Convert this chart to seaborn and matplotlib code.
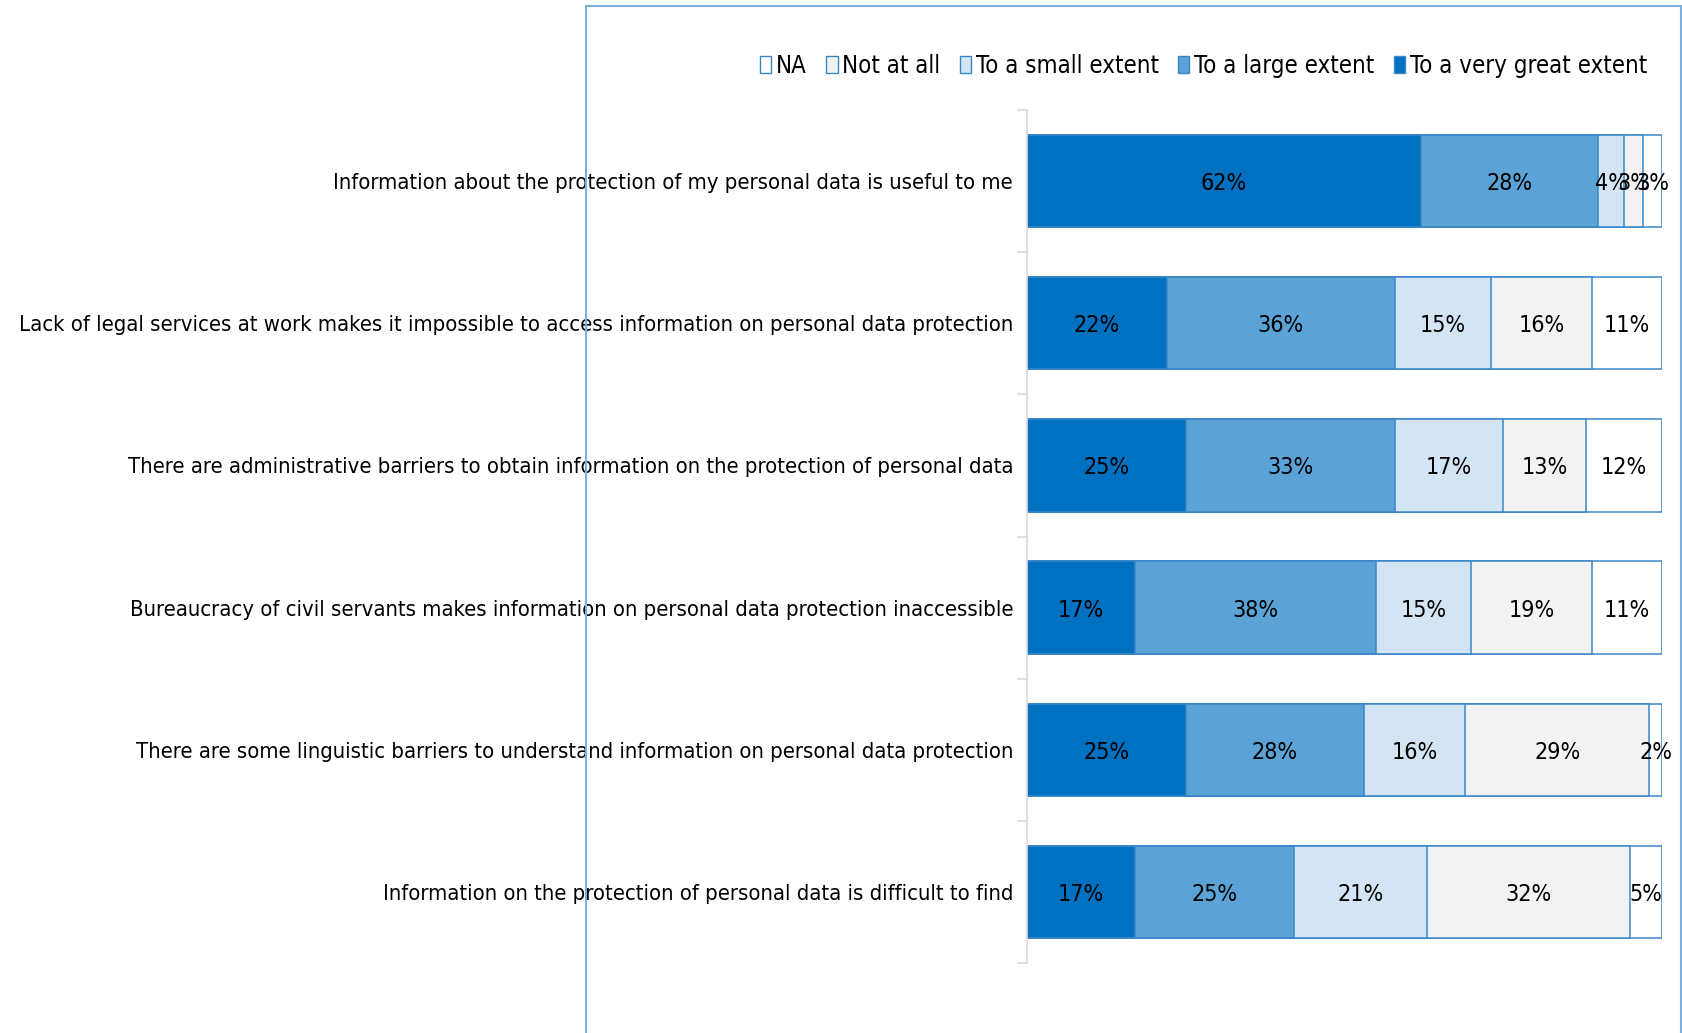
import numpy as np
import pandas as pd
import matplotlib
matplotlib.use("Agg")
import matplotlib.pyplot as plt
from matplotlib import font_manager as fm
from matplotlib.patches import Patch, Rectangle
import seaborn as sns

categories = [
    "Information about the protection of my personal data is useful to me",
    "Lack of legal services at work makes it impossible to access information on personal data protection",
    "There are administrative barriers to obtain information on the protection of personal data",
    "Bureaucracy of civil servants makes information on personal data protection inaccessible",
    "There are some linguistic barriers to understand information on personal data protection",
    "Information on the protection of personal data is difficult to find",
]
series_names = ["To a very great extent", "To a large extent", "To a small extent", "Not at all", "NA"]
very_great = [62, 22, 25, 17, 25, 17]
large = [28, 36, 33, 38, 28, 25]
small = [4, 15, 17, 15, 16, 21]
not_at_all = [3, 16, 13, 19, 29, 32]
na = [3, 11, 12, 11, 2, 5]

colors = ["#0070C0", "#5BA3D6", "#D3E5F4", "#F2F2F2", "#FFFFFF"]
edge = "#3A87C8"

sns.set_theme(style="white")
plt.rcParams["font.family"] = ["DejaVu Sans"]
plt.rcParams["text.color"] = "black"

# look for a condensed/narrow font
font_file = None
scale = 1.0
for f in fm.fontManager.ttflist:
    low = f.fname.lower()
    if "dejavusanscondensed.ttf" in low.replace("-", "") and "bold" not in low and "oblique" not in low:
        font_file = f.fname
        scale = 15.5 / 17.5
        break
if font_file is None:
    for f in fm.fontManager.ttflist:
        low = f.fname.lower()
        if "liberationsansnarrow-regular" in low.replace(" ", ""):
            font_file = f.fname
            break
if font_file is None:
    scale = 13.6 / 17.5


def fprop(size):
    if font_file is not None:
        return fm.FontProperties(fname=font_file, size=size * scale)
    return fm.FontProperties(family="DejaVu Sans", size=size * scale)


fp_tick = fprop(17.9)
fp_bar = fprop(18.8)
fp_leg = fprop(19.4)

fig = plt.figure(figsize=(16.83, 10.33), dpi=100)
ax = fig.add_axes([1027 / 1683, 1 - 963 / 1033, (1662 - 1027) / 1683, (963 - 110) / 1033])

vals = np.array([very_great, large, small, not_at_all, na], dtype=float)
cum = np.cumsum(vals, axis=0)

for i in range(len(series_names) - 1, -1, -1):
    df = pd.DataFrame({"cat": categories, "val": cum[i]})
    sns.barplot(data=df, y="cat", x="val", order=categories, color=colors[i],
                saturation=1, width=0.65, edgecolor=edge, linewidth=1.1, ax=ax, orient="h")

for i in range(len(series_names)):
    for j in range(len(categories)):
        center = cum[i][j] - vals[i][j] / 2
        ax.text(center, j, f"{int(vals[i][j])}%", ha="center", va="center_baseline",
                fontproperties=fp_bar, color="black")

ax.set_xlim(0, 100)
ax.set_ylim(len(categories) - 0.5, -0.5)
ax.set_xlabel("")
ax.set_ylabel("")
ax.set_xticks([])
ax.set_yticks(range(len(categories)))
ax.set_yticklabels(categories, fontproperties=fp_tick, color="black")
ax.set_yticks(np.arange(-0.5, len(categories)), minor=True)
ax.tick_params(axis="y", which="major", length=0, pad=10)
ax.tick_params(axis="y", which="minor", length=7, color="#D9D9D9", width=1.2, left=True)
for s in ["top", "right", "bottom"]:
    ax.spines[s].set_visible(False)
ax.spines["left"].set_color("#D9D9D9")
ax.spines["left"].set_linewidth(1.2)

legend_order = ["NA", "Not at all", "To a small extent", "To a large extent", "To a very great extent"]
legend_colors = ["#FFFFFF", "#F2F2F2", "#D3E5F4", "#5BA3D6", "#0070C0"]
handles = [Patch(facecolor=c, edgecolor=edge, linewidth=1.0) for c in legend_colors]
leg = fig.legend(handles, legend_order, loc="center right", bbox_to_anchor=(1647 / 1683, 1 - 66 / 1033),
                 ncol=5, frameon=False, prop=fp_leg, handlelength=0.48, handleheight=0.74,
                 handletextpad=0.2, columnspacing=0.8, borderaxespad=0, borderpad=0)
for t in leg.get_texts():
    t.set_color("black")

frame = Rectangle((586 / 1683, -0.05), (1681 - 586) / 1683, 1.05 - 6 / 1033,
                  transform=fig.transFigure, fill=False, edgecolor="#7EB0DD", linewidth=1.5)
fig.add_artist(frame)

fig.savefig("out.png", dpi=100)
